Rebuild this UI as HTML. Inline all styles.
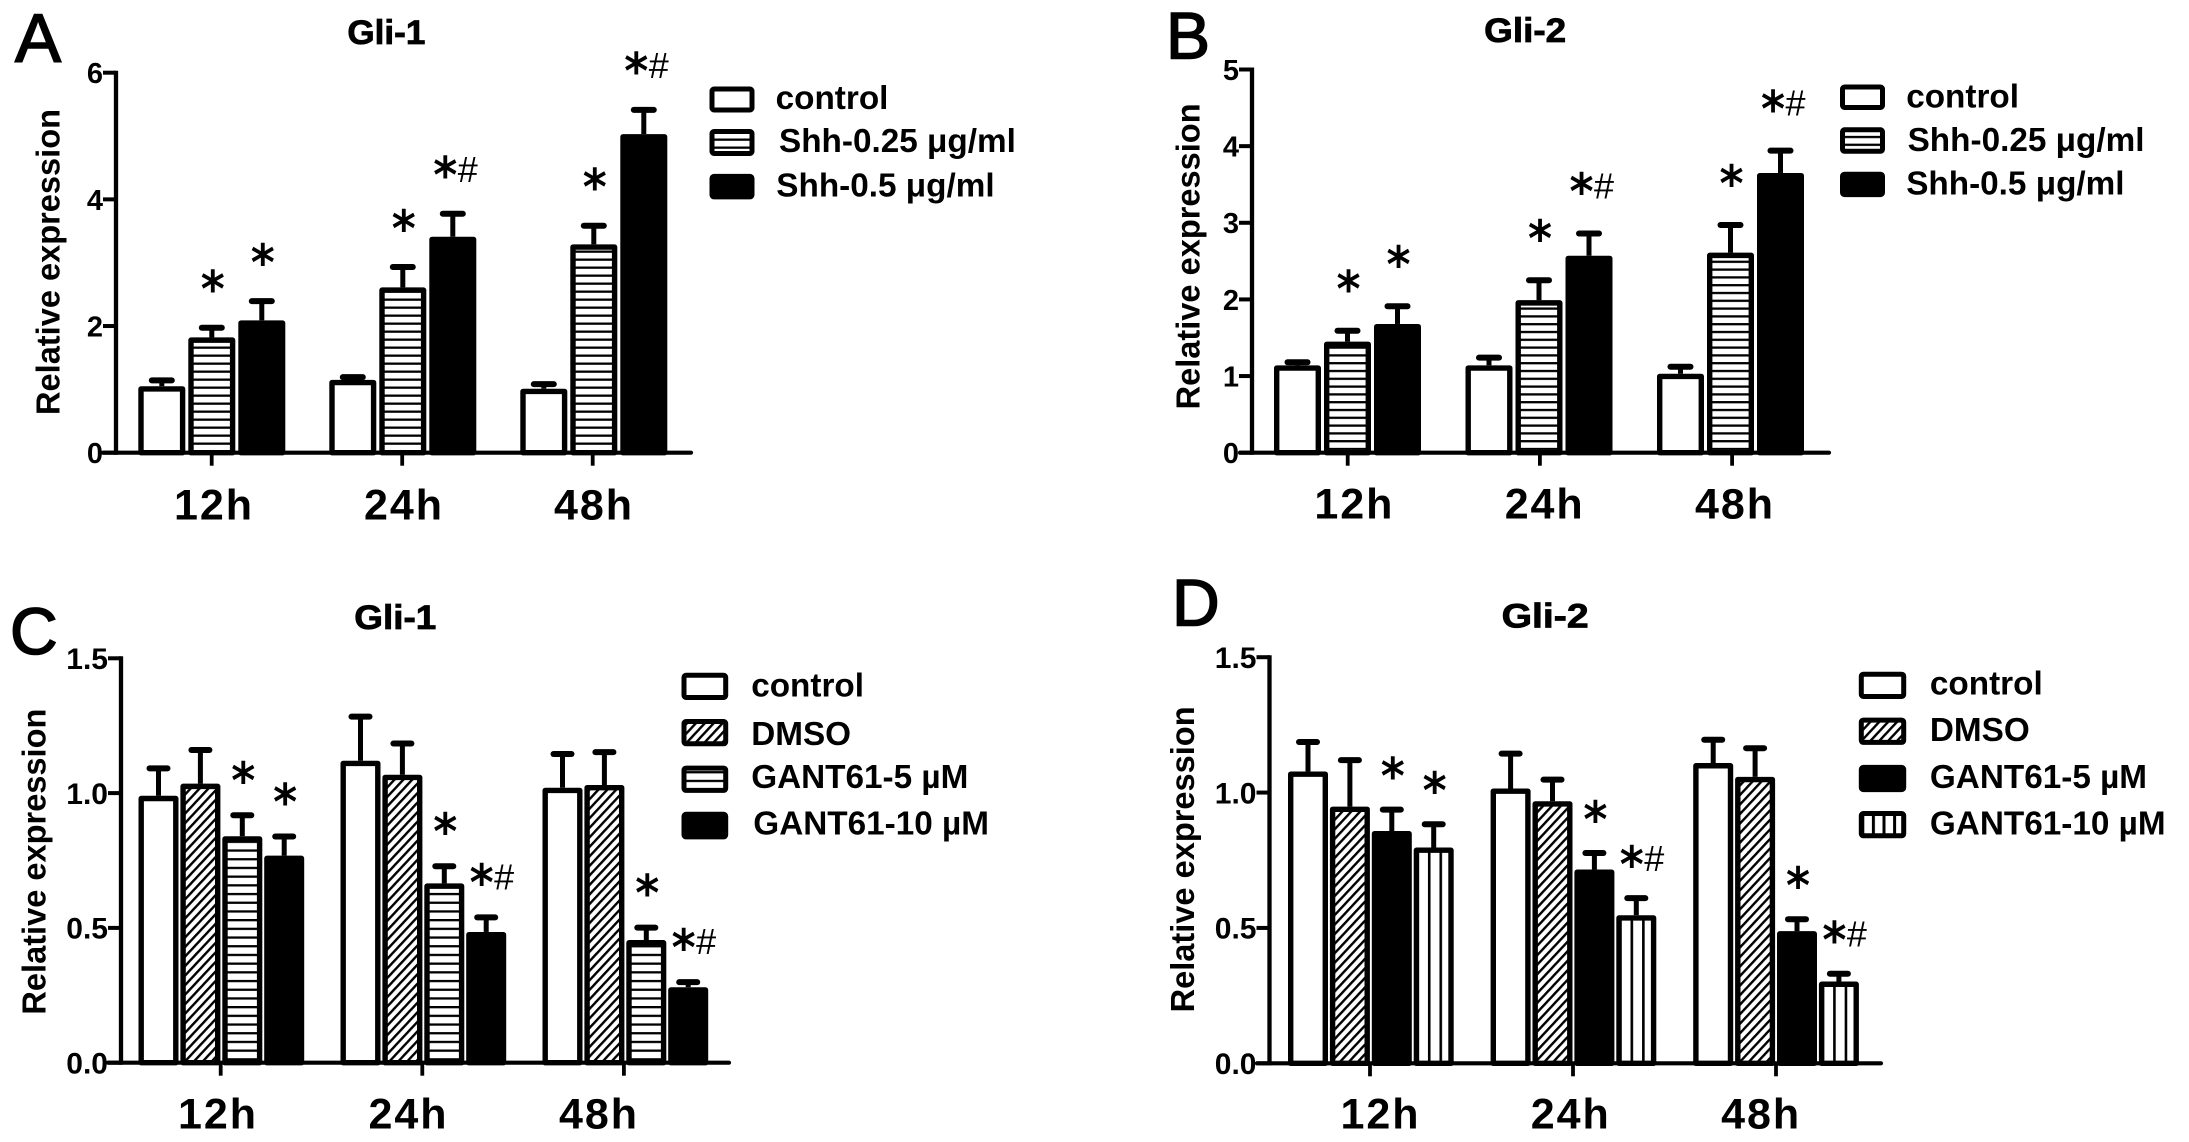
<!DOCTYPE html>
<html lang="en">
<head>
<meta charset="utf-8">
<title>Gli-1 and Gli-2 relative expression</title>
<style>
html,body{margin:0;padding:0;background:#fff;}
svg{display:block;}
text{font-family:"Liberation Sans",Arial,sans-serif;fill:#000;}
.b{font-weight:bold;}
.leg{font-weight:bold;font-size:33.3px;}
.title{font-weight:bold;font-size:34px;stroke:#000;stroke-width:.8px;}
.letter{font-size:66px;stroke:#000;stroke-width:1.6px;}
.sw{stroke:#000;stroke-width:5;stroke-linejoin:round;}
</style>
</head>
<body>
<svg id="figure" xmlns="http://www.w3.org/2000/svg" width="2189" height="1142" viewBox="0 0 2189 1142">
<defs>
<pattern id="pat-h" patternUnits="userSpaceOnUse" width="20" height="8" patternTransform="translate(0,2.5)"><rect width="20" height="8" fill="#fff"/><rect y="0" width="20" height="2.3" fill="#000"/></pattern>
<pattern id="pat-hb" patternUnits="userSpaceOnUse" width="20" height="7.8" patternTransform="translate(0,3.25)"><rect width="20" height="7.8" fill="#fff"/><rect y="0" width="20" height="2.3" fill="#000"/></pattern>
<pattern id="pat-hc" patternUnits="userSpaceOnUse" width="20" height="8.7" patternTransform="translate(0,5.5)"><rect width="20" height="8.7" fill="#fff"/><rect y="0" width="20" height="2.3" fill="#000"/></pattern>
<pattern id="pat-d" patternUnits="userSpaceOnUse" width="6.5" height="6.5" patternTransform="rotate(-47)"><rect width="6.5" height="6.5" fill="#fff"/><rect x="0" width="6.5" height="2.4" fill="#000"/></pattern>
<pattern id="pat-v" patternUnits="objectBoundingBox" width="0.3333" height="1"><rect width="40" height="1000" fill="#fff"/><rect x="0" width="2.6" height="1000" fill="#000"/></pattern>
<pattern id="pat-v4" patternUnits="objectBoundingBox" width="0.25" height="1"><rect width="40" height="1000" fill="#fff"/><rect x="0" width="3" height="1000" fill="#000"/></pattern>
</defs>
<rect width="2189" height="1142" fill="#fff"/>

<text class="letter" x="15" y="62" style="font-size:69px">A</text>
<text class="letter" x="1166" y="58.5">B</text>
<text class="letter" x="10" y="654">C</text>
<text class="letter" x="1172" y="625.5">D</text>

<text class="title" x="347.4" y="44" textLength="78" lengthAdjust="spacingAndGlyphs">Gli-1</text>
<text class="title" x="1484.2" y="41.8" textLength="82" lengthAdjust="spacingAndGlyphs">Gli-2</text>
<text class="title" x="354.3" y="629" textLength="82" lengthAdjust="spacingAndGlyphs">Gli-1</text>
<text class="title" x="1501.6" y="627.4" textLength="87" lengthAdjust="spacingAndGlyphs">Gli-2</text>

<g>
<g><rect class="sw" x="712" y="89" width="40" height="21" rx="2" fill="#fff"/><text class="leg" x="775.6" y="109">control</text></g>
<g><rect class="sw" x="712" y="131.5" width="40" height="22" rx="2" fill="url(#pat-h)"/><text class="leg" x="779" y="152">Shh-0.25 μg/ml</text></g>
<g><rect class="sw" x="712" y="176.4" width="40" height="20.5" rx="2" fill="#000"/><text class="leg" x="776.3" y="196.4">Shh-0.5 μg/ml</text></g>
</g>
<g>
<g><rect class="sw" x="1842.5" y="87" width="40" height="20.5" rx="2" fill="#fff"/><text class="leg" x="1906.2" y="107.3">control</text></g>
<g><rect class="sw" x="1842.5" y="129.8" width="40" height="21.5" rx="2" fill="url(#pat-hb)"/><text class="leg" x="1907.6" y="151">Shh-0.25 μg/ml</text></g>
<g><rect class="sw" x="1842.5" y="174.2" width="40" height="20.4" rx="2" fill="#000"/><text class="leg" x="1906.2" y="194.6">Shh-0.5 μg/ml</text></g>
</g>
<g>
<g><rect class="sw" x="684" y="675.3" width="41.7" height="22.2" rx="2" fill="#fff"/><text class="leg" x="751.2" y="696.5">control</text></g>
<g><rect class="sw" x="684" y="721.5" width="41.7" height="22.3" rx="2" fill="url(#pat-d)"/><text class="leg" x="751.2" y="744.8">DMSO</text></g>
<g><rect class="sw" x="684" y="768.1" width="41.7" height="22.3" rx="2" fill="url(#pat-hc)"/><text class="leg" x="751.2" y="788.1">GANT61-5 µM</text></g>
<g><rect class="sw" x="684" y="814.3" width="41.7" height="22.6" rx="2" fill="#000"/><text class="leg" x="753.3" y="834.7">GANT61-10 µM</text></g>
</g>
<g>
<g><rect class="sw" x="1861.3" y="674.2" width="42.4" height="22.3" rx="2" fill="#fff"/><text class="leg" x="1929.9" y="694.7">control</text></g>
<g><rect class="sw" x="1861.3" y="720.1" width="42.4" height="22.3" rx="2" fill="url(#pat-d)"/><text class="leg" x="1929.9" y="741.2">DMSO</text></g>
<g><rect class="sw" x="1861.3" y="767.4" width="42.4" height="22.2" rx="2" fill="#000"/><text class="leg" x="1929.9" y="788.1">GANT61-5 µM</text></g>
<g><rect class="sw" x="1861.3" y="813.5" width="42.4" height="22.3" rx="2" fill="url(#pat-v4)"/><text class="leg" x="1929.9" y="834.7">GANT61-10 µM</text></g>
</g>

<g id="plots"></g>
</svg>

<script>
// Shared categories
const timeLabels = ['12h', '24h', '48h'];

// Panel A: Gli-1, Shh
const aTicks = [0, 2, 4, 6];
const aControl = [1.05, 1.15, 1.01];
const aControlErr = [0.14, 0.09, 0.12];
const aShh025 = [1.82, 2.61, 3.29];
const aShh025Err = [0.20, 0.37, 0.34];
const aShh05 = [2.09, 3.41, 5.03];
const aShh05Err = [0.35, 0.41, 0.43];
const aShh025Sig = ['*', '*', '*'];
const aShh05Sig = ['*', '*#', '*#'];

// Panel B: Gli-2, Shh
const bTicks = [0, 1, 2, 3, 4, 5];
const bControl = [1.14, 1.14, 1.03];
const bControlErr = [0.08, 0.14, 0.13];
const bShh025 = [1.45, 1.99, 2.61];
const bShh025Err = [0.18, 0.30, 0.40];
const bShh05 = [1.68, 2.57, 3.65];
const bShh05Err = [0.27, 0.33, 0.33];
const bShh025Sig = ['*', '*', '*'];
const bShh05Sig = ['*', '*#', '*#'];

// Panel C: Gli-1, GANT61
const cTicks = ['0.0', '0.5', '1.0', '1.5'];
const cControl = [0.99, 1.12, 1.02];
const cControlErr = [0.113, 0.175, 0.136];
const cDmso = [1.035, 1.068, 1.03];
const cDmsoErr = [0.136, 0.127, 0.133];
const cGant5 = [0.84, 0.665, 0.455];
const cGant5Err = [0.089, 0.075, 0.057];
const cGant10 = [0.768, 0.485, 0.28];
const cGant10Err = [0.082, 0.065, 0.03];
const cGant5Sig = ['*', '*', '*'];
const cGant10Sig = ['*', '*#', '*#'];

// Panel D: Gli-2, GANT61
const dTicks = ['0.0', '0.5', '1.0', '1.5'];
const dControl = [1.078, 1.015, 1.109];
const dControlErr = [0.12, 0.14, 0.097];
const dDmso = [0.948, 0.968, 1.058];
const dDmsoErr = [0.183, 0.091, 0.117];
const dGant5 = [0.858, 0.716, 0.488];
const dGant5Err = [0.09, 0.072, 0.055];
const dGant10 = [0.797, 0.547, 0.302];
const dGant10Err = [0.097, 0.074, 0.04];
const dGant5Sig = ['*', '*', '*'];
const dGant10Sig = ['*', '*#', '*#'];

const NS = 'http://www.w3.org/2000/svg';
const plots = document.getElementById('plots');

function node(parent, tag, attrs, text) {
  const el = document.createElementNS(NS, tag);
  for (const k in attrs) el.setAttribute(k, attrs[k]);
  if (text !== undefined) el.textContent = text;
  parent.appendChild(el);
  return el;
}

function drawPanel(p) {
  const SW = 5.4;
  const g = node(plots, 'g', {});
  
  

  const yMax = Number(p.ticks[p.ticks.length - 1]);
  const yScale = v => p.y0 - (v / yMax) * (p.y0 - p.yTop);
  const barLeft = (group, series) => p.barX0 + group * p.groupStep + series * p.barStep;
  const tickX = group => p.tickX0 + group * p.tickStep;
  const labelX = group => p.labelX0 + group * p.labelStep;

  // bars and error bars
  p.series.forEach((s, si) => {
    s.values.forEach((v, gi) => {
      const left = barLeft(gi, si);
      const cx = left + p.barW / 2;
      const top = yScale(v);
      const errTop = yScale(v + s.errs[gi]);

      const stem = node(g, 'line', {x1: cx, x2: cx, y1: top, y2: errTop + 2, stroke: '#000', 'stroke-width': 5});
      
      
      const cap = node(g, 'line', {x1: cx - p.capW / 2 + 3, x2: cx + p.capW / 2 - 3, y1: errTop + 3, y2: errTop + 3, stroke: '#000', 'stroke-width': 6, 'stroke-linecap': 'round'});
      
      

      const bar = node(g, 'rect', {
        x: left + SW / 2, y: top + SW / 2,
        width: p.barW - SW, height: Math.max(0, p.y0 - top - SW / 2),
        fill: s.fill, stroke: '#000', 'stroke-width': SW, 'stroke-linejoin': 'round'
      });
      
      

      const sig = s.sig ? s.sig[gi] : '';
      if (sig) {
        const cy = errTop - p.sigGap;
        const hasHash = sig.indexOf('#') >= 0;
        const sx = hasHash ? cx - 7.5 + p.hashShift : cx + 1;
        const star = node(g, 'text', {
          transform: 'translate(' + sx + ',' + (cy + 25.8) + ') scale(1,1.08)', 'text-anchor': 'middle',
          'font-size': 46, 'font-weight': 'bold', style: 'font-family:"DejaVu Sans",sans-serif'
        }, '*');
        
        
        if (hasHash) {
          const hash = node(g, 'text', {
            x: cx + 15 + p.hashShift, y: cy + 15, 'text-anchor': 'middle', 'font-size': 36
          }, '#');
          
          
        }
      }
    });
  });

  // y axis
  const yAxis = node(g, 'line', {x1: p.axisX, x2: p.axisX, y1: p.yTop - 2, y2: p.y0 + 2, stroke: '#000', 'stroke-width': 4.3});
  
  
  p.ticks.forEach(t => {
    const y = yScale(Number(t));
    const mark = node(g, 'line', {x1: p.axisX - 13, x2: p.axisX, y1: y, y2: y, stroke: '#000', 'stroke-width': 4});
    
    
    const lab = node(g, 'text', {x: p.axisX - 13, y: y + p.tickFont * 0.36, 'text-anchor': 'end', 'font-size': p.tickFont, class: 'b'}, String(t));
    
    
  });

  // x axis
  const xAxis = node(g, 'line', {x1: p.xAxisL, x2: p.xAxisR, y1: p.y0, y2: p.y0, stroke: '#000', 'stroke-width': 4.2, 'stroke-linecap': 'round'});
  
  
  timeLabels.forEach((name, i) => {
    const x = tickX(i);
    const mark = node(g, 'line', {x1: x, x2: x, y1: p.y0, y2: p.y0 + 13, stroke: '#000', 'stroke-width': 3.8});
    
    
    const lab = node(g, 'text', {x: labelX(i) - 39, y: p.labelY, 'font-size': 43, class: 'b', textLength: 78, lengthAdjust: 'spacing'}, name);
    
    
  });

  // y axis title
  const yt = node(g, 'text', {
    transform: 'translate(' + p.yTitleX + ',' + p.yTitleY + ') rotate(-90)',
    'text-anchor': 'middle', 'font-size': 33, class: 'b', textLength: 306, lengthAdjust: 'spacingAndGlyphs'
  }, 'Relative expression');
  
  
}

const white = '#fff', black = '#000', diag = 'url(#pat-d)', vStripe = 'url(#pat-v)';

drawPanel({
  id: 'a', ticks: aTicks, axisX: 116, y0: 452.7, yTop: 72.7, xAxisL: 103, xAxisR: 691,
  barX0: 138.3, groupStep: 191, barStep: 50, barW: 47, capW: 26,
  tickX0: 211.7, tickStep: 190.5, labelX0: 213, labelStep: 190, labelY: 519.5,
  tickFont: 29, yTitleX: 59.3, yTitleY: 262, sigGap: 44, hashShift: 0,
  series: [
    {key: 'control', values: aControl, errs: aControlErr, fill: white},
    {key: 'shh-025', values: aShh025, errs: aShh025Err, fill: 'url(#pat-h)', sig: aShh025Sig},
    {key: 'shh-05', values: aShh05, errs: aShh05Err, fill: black, sig: aShh05Sig}
  ]
});

drawPanel({
  id: 'b', ticks: bTicks, axisX: 1252, y0: 452.7, yTop: 69.5, xAxisL: 1240, xAxisR: 1829,
  barX0: 1274, groupStep: 191.5, barStep: 50, barW: 47, capW: 26,
  tickX0: 1347.7, tickStep: 192.2, labelX0: 1353.4, labelStep: 190.3, labelY: 518.5,
  tickFont: 29, yTitleX: 1199.6, yTitleY: 256.4, sigGap: 47, hashShift: 0,
  series: [
    {key: 'control', values: bControl, errs: bControlErr, fill: white},
    {key: 'shh-025', values: bShh025, errs: bShh025Err, fill: 'url(#pat-hb)', sig: bShh025Sig},
    {key: 'shh-05', values: bShh05, errs: bShh05Err, fill: black, sig: bShh05Sig}
  ]
});

drawPanel({
  id: 'c', ticks: cTicks, axisX: 121, y0: 1062.7, yTop: 658.3, xAxisL: 108, xAxisR: 729,
  barX0: 138.5, groupStep: 202, barStep: 41.9, barW: 40, capW: 24,
  tickX0: 220.7, tickStep: 201.6, labelX0: 217, labelStep: 190.5, labelY: 1128.5,
  tickFont: 30, yTitleX: 45.3, yTitleY: 861.6, sigGap: 40, hashShift: 3,
  series: [
    {key: 'control', values: cControl, errs: cControlErr, fill: white},
    {key: 'dmso', values: cDmso, errs: cDmsoErr, fill: diag},
    {key: 'gant61-5', values: cGant5, errs: cGant5Err, fill: 'url(#pat-hc)', sig: cGant5Sig},
    {key: 'gant61-10', values: cGant10, errs: cGant10Err, fill: black, sig: cGant10Sig}
  ]
});

drawPanel({
  id: 'd', ticks: dTicks, axisX: 1269.5, y0: 1063.3, yTop: 657.2, xAxisL: 1257, xAxisR: 1881,
  barX0: 1288, groupStep: 202.6, barStep: 41.9, barW: 40, capW: 24,
  tickX0: 1370, tickStep: 203, labelX0: 1379.5, labelStep: 190.3, labelY: 1128.5,
  tickFont: 30, yTitleX: 1194, yTitleY: 859.4, sigGap: 39, hashShift: 3,
  series: [
    {key: 'control', values: dControl, errs: dControlErr, fill: white},
    {key: 'dmso', values: dDmso, errs: dDmsoErr, fill: diag},
    {key: 'gant61-5', values: dGant5, errs: dGant5Err, fill: black, sig: dGant5Sig},
    {key: 'gant61-10', values: dGant10, errs: dGant10Err, fill: vStripe, sig: dGant10Sig}
  ]
});
</script>
</body>
</html>
